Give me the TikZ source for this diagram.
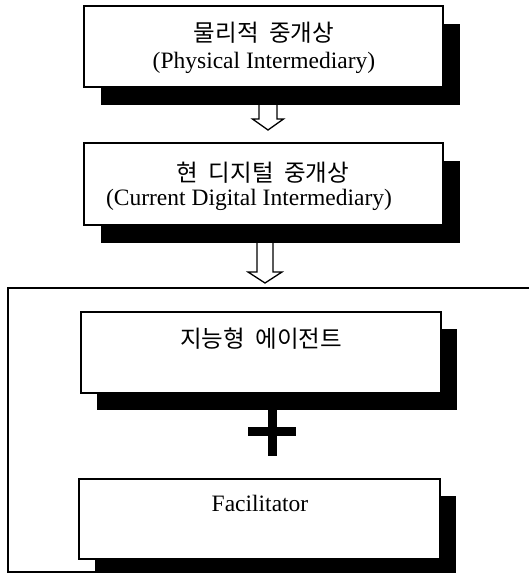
\documentclass[tikz,border=0pt]{standalone}
\usepackage{fontspec}
\setmainfont{Liberation Serif}
\newfontfamily\kr{Noto Sans CJK KR}
\usetikzlibrary{shadows,calc}
\begin{document}
\begin{tikzpicture}[x=1pt,y=-1pt,
  font=\fontsize{23.5}{28}\selectfont,
  box/.style={draw, line width=1.5pt, fill=white, inner sep=0pt,
    drop shadow={shadow xshift=17pt, shadow yshift=-18pt, fill=black, opacity=1}},
  boxs/.style={draw, line width=1.5pt, fill=white, inner sep=0pt,
    drop shadow={shadow xshift=16pt, shadow yshift=-17pt, fill=black, opacity=1}},
  txt/.style={inner sep=0pt},
  hollow/.style={draw, line width=1.3pt, fill=white, line join=miter}]
\useasboundingbox (0,0) rectangle (529,573);
% outer frame
\coordinate (f1) at (529,288);
\coordinate (f2) at (8,288);
\coordinate (f3) at (8,572);
\coordinate (f4) at (95,572);
\draw[line width=1.5pt] (f1) -- (f2) -- (f3) -- (f4);
% boxes
\node[box, minimum width=359pt, minimum height=81pt] (b1) at (263.5,46.5) {};
\node[box, minimum width=359pt, minimum height=82pt] (b2) at (263.5,184) {};
\node[boxs, minimum width=360pt, minimum height=81pt] (b3) at (261,352.5) {};
\node[boxs, minimum width=361pt, minimum height=80pt] (b4) at (259.5,519) {};
% texts
\node[txt] (t1) at (264,33) {\kr 물리적\hspace{.45em}중개상};
\node[txt] (t1e) at (264,63) {(Physical Intermediary)};
\node[txt] (t2) at (263,173) {\kr 현\hspace{.45em}디지털\hspace{.45em}중개상};
\node[txt] (t2e) at (249,200) {(Current Digital Intermediary)};
\node[txt] (t3) at (261,339) {\kr 지능형\hspace{.45em}에이전트};
\node[txt] (t4) at (260,503) {Facilitator};
% hollow arrows
\coordinate (a1) at (268,105);
\coordinate (a2) at (265,243);
\path[hollow] (a1) ++(-9,0) -- ++(0,14) -- ++(-6.5,0) -- ++(15.5,11) -- ++(15.5,-11) -- ++(-6.5,0) -- ++(0,-14);
\path[hollow] (a2) ++(-8,0) -- ++(0,29) -- ++(-9,0) -- ++(17,11) -- ++(17,-11) -- ++(-9,0) -- ++(0,-29);
% plus
\coordinate (p) at (272,431.5);
\fill ($(p)+(-4.5,-21.5)$) rectangle ($(p)+(4.5,24.5)$);
\fill ($(p)+(-24,-4.5)$) rectangle ($(p)+(24,4.5)$);
\end{tikzpicture}
\end{document}
